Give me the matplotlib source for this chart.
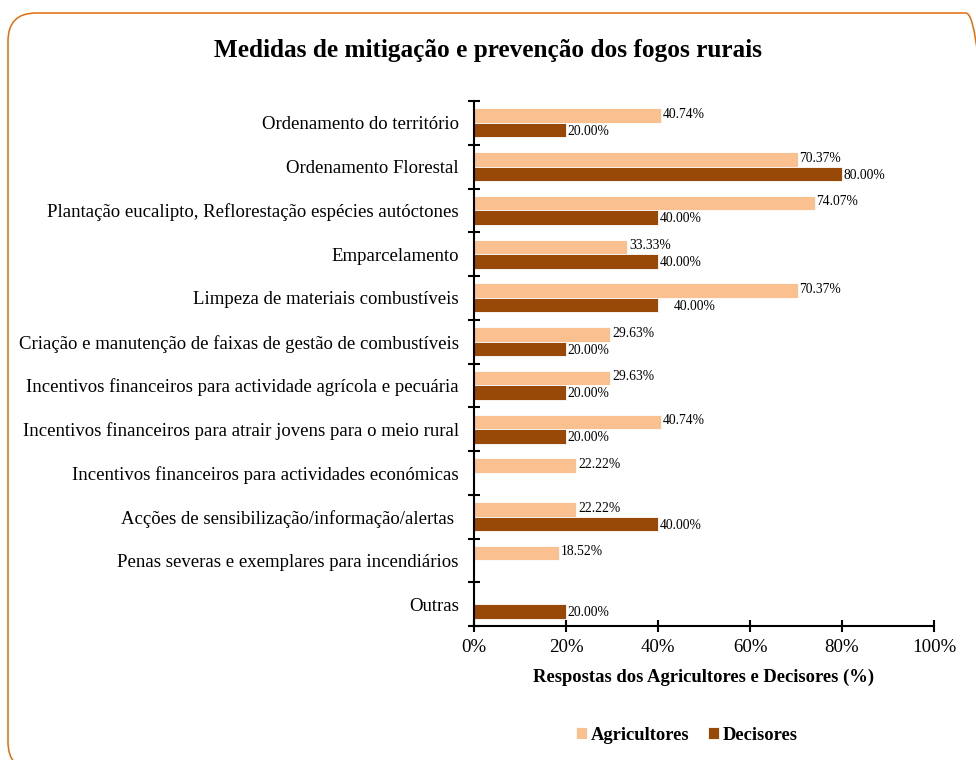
import matplotlib.pyplot as plt
from matplotlib.patches import FancyBboxPatch
from matplotlib.ticker import FixedLocator
import numpy as np

plt.rcParams['font.family'] = ['Liberation Serif', 'DejaVu Serif']

categorias = [
    "Ordenamento do território",
    "Ordenamento Florestal",
    "Plantação eucalipto, Reflorestação espécies autóctones",
    "Emparcelamento",
    "Limpeza de materiais combustíveis",
    "Criação e manutenção de faixas de gestão de combustíveis",
    "Incentivos financeiros para actividade agrícola e pecuária",
    "Incentivos financeiros para atrair jovens para o meio rural",
    "Incentivos financeiros para actividades económicas",
    "Acções de sensibilização/informação/alertas ",
    "Penas severas e exemplares para incendiários",
    "Outras",
]
agricultores = [40.74, 70.37, 74.07, 33.33, 70.37, 29.63, 29.63, 40.74, 22.22, 22.22, 18.52, None]
decisores = [20.00, 80.00, 40.00, 40.00, 40.00, 20.00, 20.00, 20.00, None, 40.00, None, 20.00]

cor_agr = '#FAC090'
cor_dec = '#984807'

fig = plt.figure(figsize=(9.76, 7.6), dpi=100)

# moldura arredondada (coordenadas em pixels)
bg = fig.add_axes([0, 0, 1, 1])
bg.set_xlim(0, 976)
bg.set_ylim(0, 760)
bg.axis('off')
bg.add_patch(FancyBboxPatch((8, -10), 986, 757, boxstyle="round,pad=0,rounding_size=28",
                            fill=False, edgecolor='#E46C0A', linewidth=1.1))

ax = fig.add_axes([474 / 976, 1 - 626 / 760, 460 / 976, 525 / 760])
y = np.arange(len(categorias))
h = 0.33

agr = [v if v is not None else 0 for v in agricultores]
dec = [v if v is not None else 0 for v in decisores]
ax.barh(y - h / 2, agr, height=h, color=cor_agr, edgecolor='white', linewidth=0.6, label='Agricultores')
ax.barh(y + h / 2, dec, height=h, color=cor_dec, edgecolor='white', linewidth=0.6, label='Decisores')

for i, v in enumerate(agricultores):
    if v is not None:
        ax.text(v + 0.4, i - h / 2 - 0.03, f"{v:.2f}%", va='center', ha='left', fontsize=9.8)
for i, v in enumerate(decisores):
    if v is not None:
        dx = 3.5 if i == 4 else 0.4
        ax.text(v + dx, i + h / 2 + 0.03, f"{v:.2f}%", va='center', ha='left', fontsize=9.8)

ax.set_xlim(0, 100)
ax.set_ylim(len(categorias) - 0.5, -0.5)
ax.set_xticks(np.arange(0, 101, 20))
ax.set_xticklabels([f"{t}%" for t in range(0, 101, 20)], fontsize=13.6)
ax.tick_params(axis='x', direction='inout', length=9, width=1.5, pad=5)
ax.set_yticks(y)
ax.set_yticklabels(categorias, fontsize=13.5)
ax.tick_params(axis='y', which='major', length=0, pad=11)
ax.yaxis.set_minor_locator(FixedLocator(np.arange(-0.5, len(categorias), 1)))
ax.tick_params(axis='y', which='minor', direction='inout', length=9, width=1.5)

for s in ['top', 'right']:
    ax.spines[s].set_visible(False)
ax.spines['left'].set_linewidth(1.5)
ax.spines['bottom'].set_linewidth(1.5)

ax.set_xlabel("Respostas dos Agricultores e Decisores (%)", fontsize=13.4, fontweight='bold', labelpad=9)

fig.text(0.5, 1 - 50 / 760, "Medidas de mitigação e prevenção dos fogos rurais",
         ha='center', va='center', fontsize=18.2, fontweight='bold')

fig.legend(loc='center', bbox_to_anchor=(687 / 976, 1 - 735 / 760), ncol=2, frameon=False,
           prop={'weight': 'bold', 'size': 13.3}, handlelength=0.6, handleheight=0.6,
           handletextpad=0.2, columnspacing=1.0)

fig.savefig('out.png', dpi=100)
